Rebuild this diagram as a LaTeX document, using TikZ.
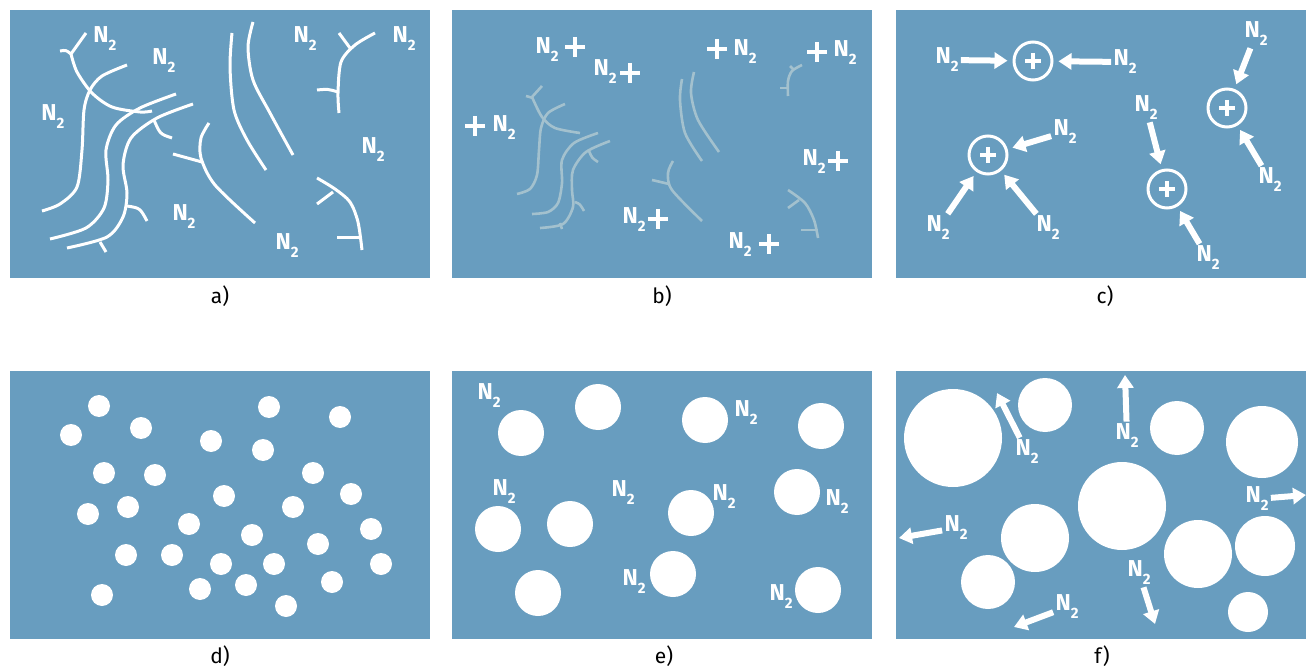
\documentclass[tikz,border=0pt]{standalone}
\usepackage{fontspec}
\setmainfont{Fira Sans}
\usetikzlibrary{arrows.meta}

\definecolor{poolblue}{RGB}{104,157,191}
\definecolor{ghost}{RGB}{163,193,206}

\newcommand{\ntwo}{N\raisebox{-4pt}{\fontsize{7.5}{8}\selectfont 2}}

\begin{document}
\begin{tikzpicture}[x=0.5pt, y=-0.5pt,
    panel/.style={fill=poolblue},
    strand/.style={white, line width=1.5pt},
    faded/.style={ghost, line width=1.3pt},
    gas/.style={text=white, font=\fontsize{11.5}{12}\selectfont\bfseries, inner sep=0.5pt},
    cross/.style={white, line width=2pt},
    ring/.style={circle, draw=white, line width=1.5pt, minimum size=19pt, inner sep=0pt},
    push/.style={white, line width=3pt, -{Triangle[length=6.5pt, width=8pt]}, shorten <=0.5pt},
    bubble/.style={fill=white},
    caption/.style={font=\fontsize{10.5}{12}\selectfont}]
\fill[white] (0,0) rectangle (1306,668);
\useasboundingbox (0,0) rectangle (1306,668);

% a) chains
\fill[panel] (10,10) rectangle (430,278);
\draw[strand] plot[smooth] coordinates {(71,54) (77,72) (92,93) (112,107) (140,112) (152,111)};
\draw[strand] (86,33) -- (71,54);
\draw[strand] (60,51) .. controls (66,50) .. (71,54);
\draw[strand] plot[smooth] coordinates {(127,65) (102,76) (90,90) (84,110) (82,150) (77,187) (60,204) (42,211)};
\draw[strand] plot[smooth] coordinates {(176,94) (140,108) (116,125) (106,150) (108,180) (104,208) (86,228) (50,239)};
\draw[strand] plot[smooth] coordinates {(193,104) (157,118) (131,138) (123,165) (127,193) (123,217) (107,237) (67,248)};
\draw[strand] (154,120) .. controls (160,134) .. (172,138);
\draw[strand] (127,206) .. controls (140,208) .. (147,221);
\draw[strand] (100,242) -- (106,252);
\draw[strand] plot[smooth] coordinates {(209,123) (201,138) (201,158) (215,185) (255,223)};
\draw[strand] (173,154) -- (202,162);
\draw[strand] plot[smooth] coordinates {(232,33) (230,67) (234,110) (247,140) (266,170)};
\draw[strand] plot[smooth] coordinates {(253,22) (248,47) (253,80) (270,113) (293,155)};
\draw[strand] plot[smooth] coordinates {(375,33) (355,45) (341,62) (338,93) (339,113)};
\draw[strand] (339,33) -- (350,48);
\draw[strand] (317,90) .. controls (328,89) .. (338,92);
\draw[strand] plot[smooth] coordinates {(317,178) (335,189) (350,202) (358,222) (362,250)};
\draw[strand] (317,204) -- (333,192);
\draw[strand] (337,238) -- (362,238);
\foreach \x/\y [count=\i] in {105/39, 164/61, 53/117, 305/39, 404/39, 373/150, 184/217, 287/246}
    \node[gas] (na\i) at (\x,\y) {\ntwo};
\node[caption] (capa) at (220,296) {a)};

% b) broken chains and ions
\fill[panel] (452,10) rectangle (872,278);
\draw[faded] plot[smooth] coordinates {(532,97) (542,117) (555,128) (580,133)};
\draw[faded] (542,86) -- (532,97);
\draw[faded] (526,96) -- (533,98);
\draw[faded] plot[smooth] coordinates {(565,104) (548,113) (541,128) (539,150) (537,175) (530,189) (517,194)};
\draw[faded] plot[smooth] coordinates {(598,133) (574,143) (562,160) (562,183) (558,203) (548,212) (532,214)};
\draw[faded] plot[smooth] coordinates {(610,141) (586,152) (573,170) (572,190) (573,207) (563,224) (540,228)};
\draw[faded] (589,151) .. controls (592,158) .. (598,162);
\draw[faded] (575,202) .. controls (580,204) .. (584,211);
\draw[faded] (560,223) -- (562,229);
\draw[faded] plot[smooth] coordinates {(673,161) (668,173) (672,190) (702,221)};
\draw[faded] (652,180) -- (669,184);
\draw[faded] plot[smooth] coordinates {(682,79) (680,100) (685,133) (702,161)};
\draw[faded] plot[smooth] coordinates {(694,72) (691,93) (698,120) (719,152)};
\draw[faded] plot[smooth] coordinates {(802,65) (792,71) (788,81) (788,96)};
\draw[faded] (790,66) -- (794,70);
\draw[faded] (780,88) -- (788,88);
\draw[faded] plot[smooth] coordinates {(788,190) (805,203) (814,220) (818,238)};
\draw[faded] (788,208) -- (799,200);
\draw[faded] (801,230) -- (818,230);
\foreach \x/\y [count=\i] in {547/50, 605/72, 504/128, 745/52, 845/53, 814/162, 634/220, 740/245}
    \node[gas] (nb\i) at (\x,\y) {\ntwo};
\foreach \x/\y in {575/47, 630/73, 475/126, 717/49, 817/52, 838/161, 658/219, 769/244}
    \draw[cross] (\x-10,\y) -- (\x+10,\y) (\x,\y-10) -- (\x,\y+10);
\node[caption] (capb) at (662,296) {b)};

% c) gas drawn to the ions
\fill[panel] (896,10) rectangle (1306,278);
\foreach \x/\y [count=\i] in {1033/61, 1227/108, 988/155, 1167/189} {
    \node[ring] (ion\i) at (\x,\y) {};
    \draw[cross] (\x-8,\y) -- (\x+8,\y) (\x,\y-8) -- (\x,\y+8);
}
\foreach \x/\y/\t [count=\i] in {947/60/1, 1125/62/1, 1256/34/2, 1270/180/2, 1065/132/3,
        938/228/3, 1048/228/3, 1146/108/4, 1208/258/4} {
    \node[gas] (nc\i) at (\x,\y) {\ntwo};
    \draw[push, shorten >=2.5pt] (nc\i) -- (ion\t);
}
\node[caption] (capc) at (1105,296) {c)};

% d) small cells
\fill[panel] (10,371) rectangle (430,639);
\foreach \x/\y in {99/406, 71/435, 141/428, 269/407, 340/417, 211/441, 263/450, 104/473,
        155/475, 313/473, 351/494, 224/496, 293/507, 88/514, 128/507, 189/524, 252/535,
        371/529, 318/544, 126/555, 172/555, 221/564, 274/564, 381/564, 200/589, 246/585,
        332/582, 102/595, 286/606}
    \fill[bubble] (\x,\y) circle[radius=11];
\node[caption] (capd) at (220,656) {d)};

% e) growing cells
\fill[panel] (452,371) rectangle (872,639);
\foreach \x/\y in {521/433, 598/407, 705/420, 821/426, 498/529, 570/524, 691/513,
        797/492, 538/593, 673/574, 818/590}
    \fill[bubble] (\x,\y) circle[radius=23];
\foreach \x/\y [count=\i] in {489/396, 746/413, 504/492, 623/493, 724/497, 837/502, 634/582, 781/597}
    \node[gas] (ne\i) at (\x,\y) {\ntwo};
\node[caption] (cape) at (664,656) {e)};

% f) gas leaving the foam
\fill[panel] (896,371) rectangle (1306,639);
\foreach \x/\y/\r in {953/438/49, 1045/405/27, 1177/428/27, 1262/442/36, 1122/506/44,
        1035/538/34, 988/582/27, 1198/554/34, 1265/546/30, 1248/612/20}
    \fill[bubble] (\x,\y) circle[radius=\r];
\foreach \x/\y/\u/\v [count=\i] in {1027/452/997/393, 1127/436/1125/375, 956/528/899/538,
        1257/499/1306/495, 1139/573/1155/624, 1067/607/1014/627} {
    \node[gas] (nf\i) at (\x,\y) {\ntwo};
    \coordinate (out\i) at (\u,\v);
    \draw[push] (nf\i) -- (out\i);
}
\node[caption] (capf) at (1102,656) {f)};
\end{tikzpicture}
\end{document}
